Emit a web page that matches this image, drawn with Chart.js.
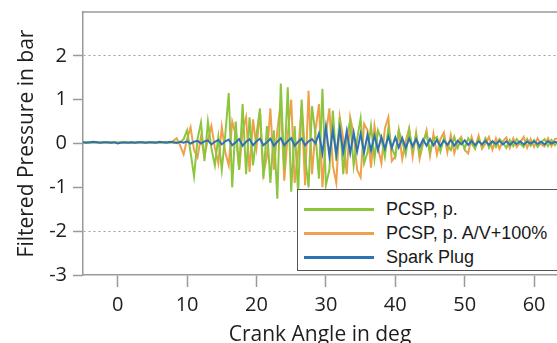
<!DOCTYPE html>
<html>
<head>
<meta charset="utf-8">
<script src="https://cdn.jsdelivr.net/npm/chart.js@4.4.0/dist/chart.umd.min.js"></script>
<style>
  body { margin: 0; background: #fff; overflow: hidden; }
  #wrap { position: relative; width: 557px; height: 343px; overflow: hidden; }
  #legend {
    position: absolute; left: 297px; top: 189px; width: 280px; height: 80px;
    border: 1px solid #555; background: #fff;
    font-family: "Liberation Sans", Arial, sans-serif; font-size: 18px; color: #1a1a1a;
  }
  .row { position: absolute; left: 0; height: 24px; line-height: 24px; white-space: nowrap; }
  .row span.line { position: absolute; left: 6px; top: 11px; width: 70px; height: 3px; }
  .row span.txt { position: absolute; left: 88px; top: 0; }
</style>
</head>
<body>
<div id="wrap">
  <canvas id="chart" width="557" height="343"></canvas>
  <div id="legend"></div>
</div>
<script>
// crank angle samples start at -5 deg, every 0.5 deg
const START_ANGLE = -5;
const STEP = 0.5;

const seriesNames = ["PCSP, p.", "PCSP, p. A/V+100%", "Spark Plug"];
const seriesColors = ["#8cc63f", "#f0a04a", "#2f72b4"];

const pcspValues = [
  0.02, 0.03, 0.02, 0.02, 0.03, 0.02, 0.02, 0.03, 0.02, 0.02,
  0.02, 0.03, 0.02, 0.02, 0.03, 0.02, 0.02, 0.03, 0.02, 0.02,
  0.02, 0.02, 0.03, 0.02, 0.02, 0.03, 0.02, 0.03, 0.03, 0.1,
  0.3, -0.2, -0.75, 0.1, 0.48, -0.4, 0.5, -0.1, -0.5, 0.15,
  -0.6, 0.2, 1.15, -1.0, 0.5, -0.6, 0.9, -0.7, 0.6, -0.5,
  0.2, 0.8, -0.8, 0.4, -0.9, 0.3, -1.26, 1.37, -0.6, 1.28,
  -1.1, 0.4, -1.15, 1.0, -0.3, -1.0, 0.85, 0.2, -0.8, 1.25,
  -0.95, -0.6, 0.75, -0.4, 0.6, -0.7, 0.2, 0.5, -0.5, 0.1,
  0.57, -0.45, -0.2, 0.4, -0.35, 0.3, 0.1, -0.3, 0.35, -0.1,
  -0.3, 0.3, 0.05, -0.25, 0.3, -0.15, 0.2, -0.25, 0.05, 0.22,
  -0.2, 0.1, 0.15, -0.18, 0.12, -0.05, -0.15, 0.15, -0.1, 0.1,
  -0.12, 0.12, 0.0, -0.12, 0.1, -0.05, 0.12, -0.1, 0.05, -0.08,
  0.1, 0.02, -0.1, 0.08, -0.06, 0.1, 0.0, -0.08, 0.1, -0.05,
  0.08, -0.08, 0.02, 0.1, -0.06, 0.08, -0.04, 0.06
];

const pcspAvValues = [
  0.02, 0.03, 0.02, 0.03, 0.02, 0.02, 0.03, 0.02, 0.03, 0.02,
  0.02, 0.03, 0.02, 0.02, 0.03, 0.02, 0.03, 0.02, 0.02, 0.03,
  0.02, 0.03, 0.02, 0.03, 0.04, 0.02, 0.06, 0.12, -0.05, -0.25,
  0.1, 0.37, -0.15, -0.32, 0.15, -0.3, 0.1, 0.4, -0.1, -0.45,
  0.38, -0.2, -0.5, 0.5, 0.2, -0.6, 0.3, 0.6, -0.65, 0.55,
  -0.1, 0.72, -0.7, -0.3, 0.8, -0.6, 0.3, 0.95, -0.85, 0.2,
  1.0, -0.9, -0.2, 0.85, -0.95, 1.2, -0.7, 0.3, 0.9, -1.0,
  0.2, 0.8, -0.5, -0.9, 0.6, 0.1, -0.7, 0.6, 0.2, -0.6,
  -0.77, 0.45, 0.3, -0.55, 0.4, -0.1, -0.45, 0.35, 0.6, -0.4,
  -0.3, 0.3, -0.35, 0.05, 0.35, -0.3, 0.25, -0.35, 0.0, 0.3,
  -0.28, 0.22, -0.25, 0.1, 0.25, -0.2, 0.2, -0.22, 0.05, 0.15,
  -0.15, -0.23, 0.15, -0.1, 0.18, -0.12, 0.0, 0.15, -0.14, 0.12,
  -0.12, 0.05, 0.14, -0.1, 0.12, -0.08, 0.02, 0.15, -0.1, 0.1,
  -0.08, 0.12, -0.02, -0.07, 0.12, -0.06, 0.1, 0.12
];

const sparkValues = [
  0.03, 0.02, 0.03, 0.04, 0.03, 0.02, 0.03, 0.03, 0.02, 0.03,
  0.0, 0.02, 0.03, 0.02, 0.03, 0.02, 0.03, 0.03, 0.02, 0.03,
  0.03, 0.02, 0.04, 0.03, 0.02, 0.04, 0.03, 0.01, 0.04, 0.02,
  0.05, 0.0, 0.04, 0.06, 0.0, 0.05, 0.07, -0.02, 0.04, 0.08,
  -0.02, 0.05, 0.09, -0.04, 0.03, 0.1, -0.05, 0.04, 0.1, -0.04,
  0.05, 0.11, -0.04, 0.03, 0.11, -0.05, 0.04, 0.12, -0.04, 0.05,
  0.12, -0.05, 0.04, 0.11, -0.04, 0.05, 0.1, 0.0, 0.23, -0.22,
  0.38, -0.28, 0.3, -0.25, 0.33, -0.2, 0.28, -0.22, 0.25, -0.18,
  0.22, -0.2, 0.2, -0.16, 0.18, -0.15, 0.15, -0.12, 0.16, -0.1,
  0.14, -0.09, 0.12, -0.1, 0.11, -0.06, 0.1, -0.08, 0.09, -0.05,
  0.1, -0.04, 0.08, -0.06, 0.07, -0.03, 0.08, -0.05, 0.06, -0.02,
  0.07, -0.03, 0.06, -0.04, 0.05, -0.02, 0.06, -0.03, 0.05, -0.01,
  0.06, -0.02, 0.05, -0.03, 0.04, -0.01, 0.05, -0.02, 0.04, 0.0,
  0.05, -0.01, 0.04, -0.02, 0.05, 0.0, 0.04, 0.01
];

const xTicks = [0, 10, 20, 30, 40, 50, 60];
const yTicks = [-3, -2, -1, 0, 1, 2];
const gridValues = [-2, 2];

const angles = sparkValues.map((_, i) => START_ANGLE + i * STEP);
const toPoints = (vals) => vals.map((v, i) => ({ x: angles[i], y: v }));

const AXIS_GREY = "#9a9a9a";
const TEXT = "#1e1e1e";

// top frame line (right side is cut off in the original)
const topBorder = {
  id: "topBorder",
  afterDraw(chart) {
    const { ctx, chartArea } = chart;
    ctx.save();
    ctx.strokeStyle = AXIS_GREY;
    ctx.lineWidth = 1.5;
    ctx.beginPath();
    ctx.moveTo(chartArea.left, chartArea.top);
    ctx.lineTo(chartArea.right, chartArea.top);
    ctx.stroke();
    ctx.restore();
  }
};

new Chart(document.getElementById("chart"), {
  type: "line",
  data: {
    datasets: [
      { label: seriesNames[0], data: toPoints(pcspValues), borderColor: seriesColors[0], order: 1 },
      { label: seriesNames[1], data: toPoints(pcspAvValues), borderColor: seriesColors[1], order: 2 },
      { label: seriesNames[2], data: toPoints(sparkValues), borderColor: seriesColors[2], order: 0 }
    ].map(d => Object.assign(d, { borderWidth: 2, pointRadius: 0, tension: 0, fill: false }))
  },
  options: {
    responsive: false,
    devicePixelRatio: 1,
    animation: false,
    layout: { padding: { top: 12, right: 0, left: 0, bottom: 0 } },
    plugins: { legend: { display: false }, tooltip: { enabled: false } },
    scales: {
      x: {
        type: "linear",
        min: -5,
        max: 63.3,
        afterBuildTicks: (axis) => { axis.ticks = xTicks.map(v => ({ value: v })); },
        afterFit: (axis) => { axis.height = 68; },
        border: { color: AXIS_GREY, width: 1.5 },
        grid: { drawOnChartArea: false, tickLength: 12, tickColor: AXIS_GREY, tickWidth: 1.5 },
        ticks: { color: TEXT, padding: 6, font: { family: "Open Sans", size: 20 }, maxRotation: 0 },
        title: { display: true, text: "Crank Angle in deg", color: TEXT, padding: { top: 0, bottom: -5 },
                 font: { family: "Open Sans", size: 21 } }
      },
      y: {
        min: -3,
        max: 3,
        afterBuildTicks: (axis) => { axis.ticks = yTicks.map(v => ({ value: v })); },
        afterFit: (axis) => { axis.width = 83; axis.paddingTop = 0; axis.paddingBottom = 0; },
        border: { color: AXIS_GREY, width: 1.5, dash: [2, 3] },
        grid: {
          color: (c) => gridValues.includes(c.tick && c.tick.value) ? "#a0a0a0" : "rgba(0,0,0,0)",
          lineWidth: 1,
          tickLength: 10,
          tickColor: AXIS_GREY,
          tickWidth: 1.5,
          tickBorderDash: []
        },
        ticks: { color: TEXT, padding: 6, font: { family: "Open Sans", size: 20 } },
        title: { display: true, text: "Filtered Pressure in bar", color: TEXT, padding: { top: 14, bottom: 0 },
                 font: { family: "Open Sans", size: 21 } }
      }
    }
  },
  plugins: [topBorder]
});

// legend box drawn as html text inside the plot
const legend = document.getElementById("legend");
seriesNames.forEach((name, i) => {
  const row = document.createElement("div");
  row.className = "row";
  row.style.top = (7 + i * 24) + "px";
  row.innerHTML = `<span class="line" style="background:${seriesColors[i]}"></span><span class="txt">${name}</span>`;
  legend.appendChild(row);
});
</script>
</body>
</html>
